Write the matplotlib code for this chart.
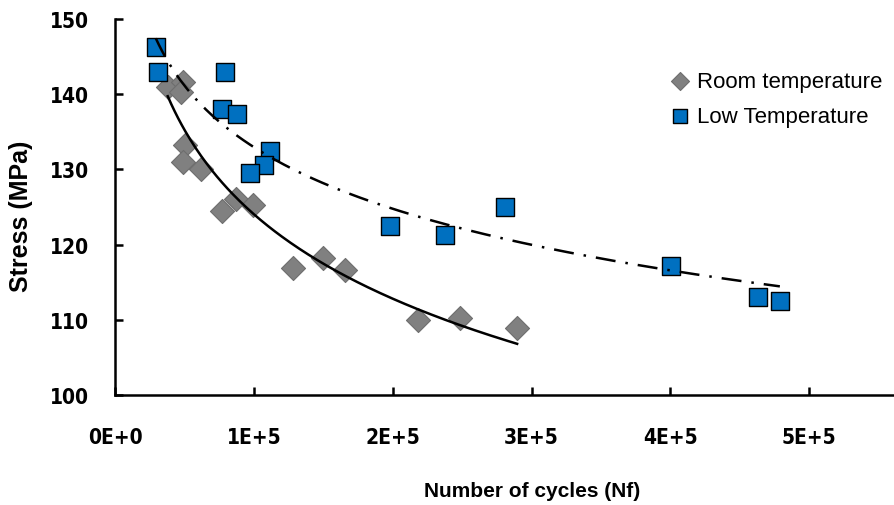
import numpy as np
import matplotlib
matplotlib.use("Agg")
import matplotlib.pyplot as plt

# values
room_cycles = [38000, 48700, 47300, 50200, 48700, 61600, 77400, 87500, 99600,
               128300, 149800, 165600, 217900, 248700, 289600]
room_stress = [141.0, 141.6, 140.3, 133.2, 131.0, 130.1, 124.5, 126.0, 125.2,
               116.9, 118.2, 116.6, 110.0, 110.3, 108.9]

low_cycles = [29400, 30800, 78900, 77400, 88200, 111800, 107500, 97500,
              197800, 238000, 281000, 400700, 463000, 478800]
low_stress = [146.3, 143.0, 143.0, 138.0, 137.4, 132.4, 130.6, 129.5,
              122.5, 121.3, 125.0, 117.2, 113.0, 112.5]

x_ticks = [0, 100000, 200000, 300000, 400000, 500000]
x_tick_labels = ["0E+0", "1E+5", "2E+5", "3E+5", "4E+5", "5E+5"]
y_ticks = [100, 110, 120, 130, 140, 150]


def log_fit(x, y):
    # excel style logarithmic trendline, y = a + b*ln(x)
    b, a = np.polyfit(np.log(x), y, 1)
    xs = np.linspace(min(x), max(x), 200)
    return xs, a + b * np.log(xs)


fig = plt.figure(figsize=(8.94, 5.06), dpi=100)
ax = fig.add_axes([0.1286, 0.2174, 0.8714, 0.7431])

ax.scatter(room_cycles, room_stress, marker='D', s=150, color='#808080',
           edgecolor='#6e6e6e', linewidth=0.8, label='Room temperature', zorder=2)
ax.scatter(low_cycles, low_stress, marker='s', s=175, color='#0070C0',
           edgecolor='black', linewidth=1.0, label='Low Temperature', zorder=3)

xs, ys = log_fit(room_cycles, room_stress)
ax.plot(xs, ys, color='black', linewidth=1.8, zorder=4)
xs, ys = log_fit(low_cycles, low_stress)
ax.plot(xs, ys, color='black', linewidth=1.8, linestyle=(0, (8, 4, 1, 4)), zorder=4)

ax.set_xlim(0, 561000)
ax.set_ylim(100, 150)
ax.set_xticks(x_ticks)
ax.set_xticklabels(x_tick_labels)
ax.set_yticks(y_ticks)

for lab in ax.get_xticklabels() + ax.get_yticklabels():
    lab.set_family('DejaVu Sans')
    lab.set_fontstretch('condensed')
    lab.set_fontweight('bold')
    lab.set_fontsize(15)

ax.tick_params(axis='both', direction='in', length=6, width=1.8)
ax.tick_params(axis='x', pad=23)
ax.tick_params(axis='y', pad=19)

ax.spines['top'].set_visible(False)
ax.spines['right'].set_visible(False)
ax.spines['left'].set_linewidth(1.8)
ax.spines['bottom'].set_linewidth(1.8)

ax.set_xlabel("Number of cycles (Nf)", family=['Liberation Sans', 'DejaVu Sans'],
              fontweight='bold', fontsize=15, va='center')
ax.xaxis.set_label_coords(0.535, -0.255)
ax.set_ylabel("Stress (MPa)", family=['Liberation Sans', 'DejaVu Sans'],
              fontweight='bold', fontsize=18, va='center')
ax.yaxis.set_label_coords(-0.1207, 0.479)

ax.legend(loc='upper left', bbox_to_anchor=(0.7, 0.892), frameon=False,
          borderpad=0, handlelength=0.8, handletextpad=0.35, labelspacing=0.65,
          markerscale=0.75, prop={'family': ['Liberation Sans', 'DejaVu Sans'], 'size': 16})

plt.savefig("out.png", dpi=100)
